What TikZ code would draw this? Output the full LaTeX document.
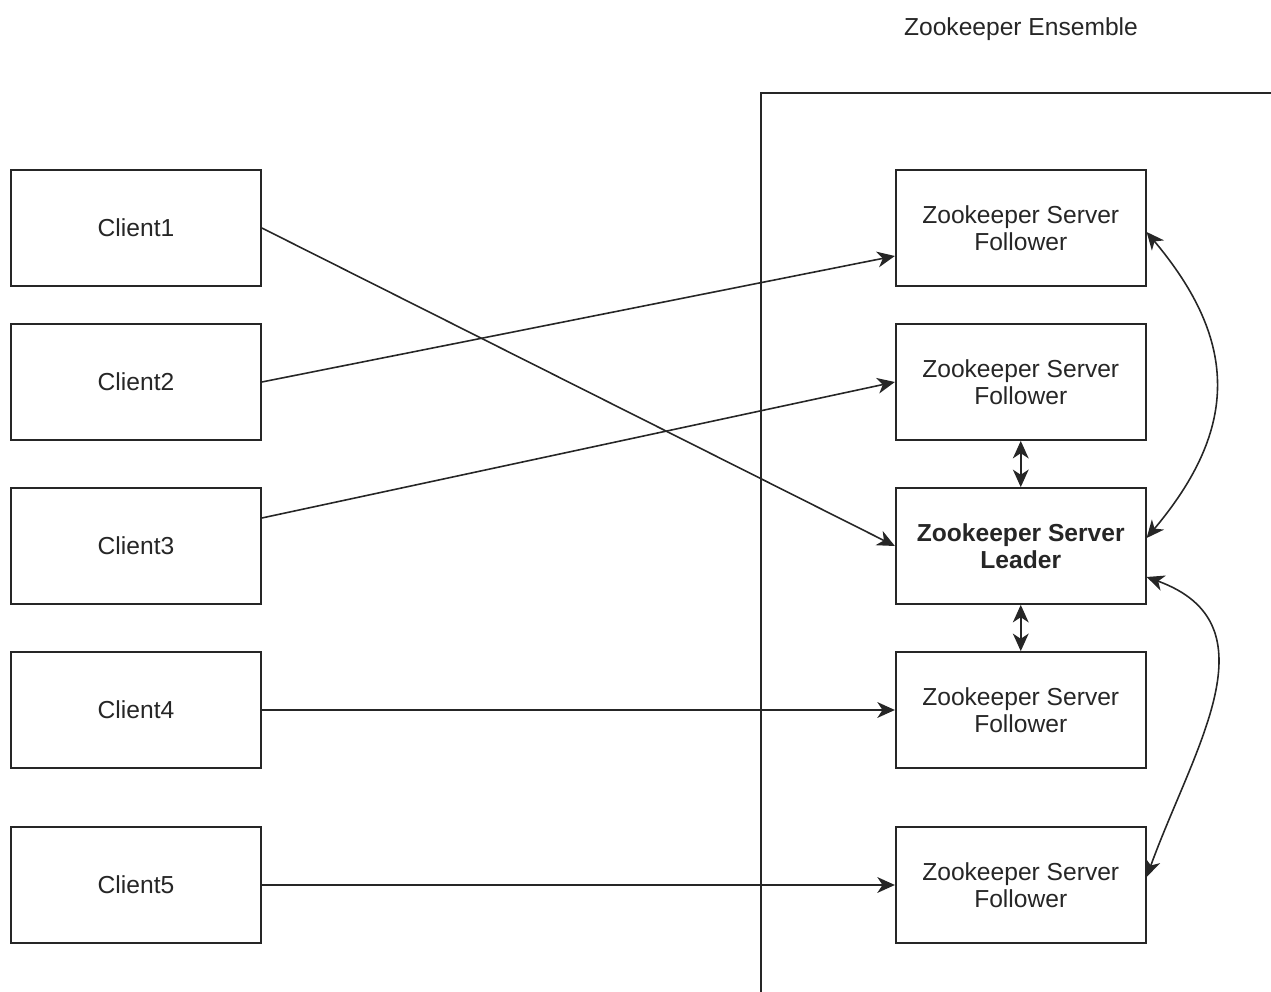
\documentclass[tikz,border=0pt]{standalone}
\usepackage{fontspec}
\setmainfont{Liberation Sans}
\usetikzlibrary{positioning, arrows.meta}
\newcommand\boxfont{\fontsize{14pt}{15.5pt}\selectfont}
\tikzset{
	node distance=1cm and 12.66cm,
	every text node part/.style= {
		align=center
	},
	client/.style= {
		rectangle,
		draw,
		line width=1pt,
		minimum width=5cm,
		minimum height=2.32cm,
		font=\boxfont
	},
	follower/.style= {
		client
	},
	leader/.style= {
		client,
		font=\boxfont\bfseries
	},
	link/.style= {
		line width=0.9pt,
		-{Stealth[length=10pt, width=9pt, inset=3pt]}
	},
	sync/.style= {
		link,
		{Stealth[length=10pt, width=9pt, inset=3pt]}-{Stealth[length=10pt, width=9pt, inset=3pt]}
	}
}

\begin{document}
\begin{tikzpicture}[black!85]
		\useasboundingbox (0,0) rectangle (25.42,-19.84);
		
		% ensemble frame
		\draw[line width=1pt] (15.22,-19.84) |- (25.42,-1.86);
		\node (ensemble) at (20.42,-0.58) {\boxfont Zookeeper Ensemble};
		
		\foreach[count=\i from 1] \y/\role/\kind in {-4.56/Follower/follower, -7.64/Follower/follower, -10.92/Leader/leader, -14.2/Follower/follower, -17.7/Follower/follower}
		{
			\node (client\i)[client] at (2.72,\y) {Client\i};
			\node (server\i)[\kind, right = of client\i] {Zookeeper Server\\\role};
		}
		
		\draw[link] (client1.east) to (server3.west);
		\draw[link] (client2.east) to ([yshift=-0.56cm]server1.west);
		\draw[link] ([yshift=0.56cm]client3.east) to (server2.west);
		\draw[link] (client4) to (server4);
		\draw[link] (client5) to (server5);
		
		\draw[sync] (server2) to (server3);
		\draw[sync] (server3) to (server4);
		
		\draw[sync] ([yshift=-0.08cm]server1.east) to[out=-50, in=50, looseness=1.2] ([yshift=0.16cm]server3.east);
		\draw[sync] ([yshift=-0.62cm]server3.east) to[out=-20, in=70, looseness=1.18] ([yshift=0.16cm]server5.east);
	\end{tikzpicture}
\end{document}
